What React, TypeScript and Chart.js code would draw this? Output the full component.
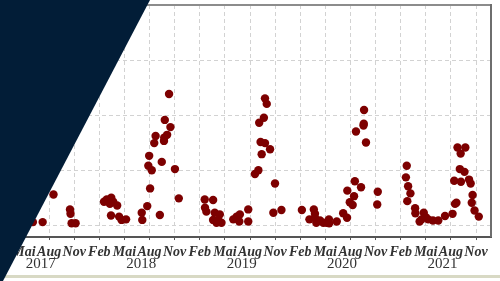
import React, { useEffect, useRef } from "react";
import { Chart, registerables } from "chart.js";

Chart.register(...registerables);

// ---- data ----
const sampleDates = [
  "2017-06-03", "2017-07-08", "2017-08-17", "2017-10-16", "2017-10-18", "2017-10-22", "2017-11-06",
  "2018-02-18", "2018-02-28", "2018-03-14", "2018-03-21", "2018-03-09", "2018-04-05", "2018-03-13",
  "2018-04-12", "2018-04-21", "2018-05-07",
  "2018-07-03", "2018-07-05", "2018-07-23", "2018-07-30", "2018-07-27", "2018-08-09", "2018-08-03",
  "2018-08-18", "2018-08-23", "2018-09-08", "2018-09-15", "2018-09-24", "2018-09-23", "2018-09-26",
  "2018-10-04", "2018-10-11", "2018-10-16", "2018-11-02", "2018-11-16",
  "2019-02-19", "2019-03-19", "2019-02-20", "2019-02-25", "2019-03-25", "2019-04-13", "2019-03-19",
  "2019-04-01", "2019-04-19", "2019-04-07", "2019-06-01", "2019-06-13", "2019-06-25", "2019-06-23",
  "2019-07-25", "2019-07-25",
  "2019-08-19", "2019-09-01", "2019-09-04", "2019-09-21", "2019-09-25", "2019-10-01", "2019-09-09",
  "2019-09-25", "2019-10-13", "2019-09-13", "2019-10-31", "2019-10-25", "2019-11-24",
  "2020-02-07", "2020-03-20", "2020-03-24", "2020-03-04", "2020-03-24", "2020-03-29", "2020-04-12",
  "2020-04-24", "2020-05-06", "2020-05-14", "2020-05-15", "2020-06-12",
  "2020-07-05", "2020-07-19", "2020-07-20", "2020-07-29", "2020-08-09", "2020-08-14", "2020-08-17",
  "2020-09-09", "2020-08-21", "2020-09-18", "2020-09-19", "2020-09-20", "2020-09-27", "2020-11-09",
  "2020-11-07",
  "2021-02-23", "2021-02-20", "2021-02-28", "2021-03-06", "2021-02-25", "2021-03-23", "2021-03-24",
  "2021-04-09", "2021-04-24", "2021-05-01", "2021-04-16", "2021-05-10", "2021-05-27", "2021-06-16",
  "2021-07-10", "2021-08-07", "2021-08-16", "2021-08-21", "2021-08-13", "2021-09-07", "2021-09-03",
  "2021-09-20", "2021-08-25", "2021-09-23", "2021-09-06", "2021-10-06", "2021-10-12", "2021-10-19",
  "2021-10-16", "2021-10-26", "2021-11-11",
];

const sampleValues = [
  0.7, 0.7, 5.7, 3.0, 2.2, 0.5, 0.5,
  4.4, 4.8, 5.1, 4.4, 4.0, 3.7, 1.9,
  1.7, 1.1, 1.2,
  2.4, 1.1, 3.6, 12.7, 10.9, 10.1, 6.8,
  15.0, 16.3, 2.0, 11.6, 16.0, 15.4, 19.2,
  16.5, 23.9, 17.9, 10.3, 5.0,
  4.8, 4.7, 3.3, 2.6, 2.4, 2.1, 1.1,
  0.6, 0.6, 1.1, 1.2, 1.7, 2.1, 0.8,
  3.0, 0.8,
  9.4, 10.1, 18.7, 19.6, 23.1, 22.1, 15.2,
  15.0, 13.9, 13.0, 7.7, 2.4, 2.9,
  2.9, 3.0, 2.2, 1.2, 1.5, 0.6, 1.0,
  0.6, 0.6, 1.2, 0.5, 0.8,
  2.3, 1.5, 6.4, 4.3, 3.8, 5.4, 8.1,
  7.0, 17.1, 18.2, 18.5, 21.0, 15.1, 6.2,
  3.9,
  10.9, 8.8, 7.2, 5.9, 4.5, 3.2, 2.3,
  0.8, 2.4, 1.6, 1.2, 1.2, 1.0, 1.0,
  1.8, 2.2, 4.0, 4.2, 8.2, 8.0, 10.3,
  9.8, 14.2, 14.2, 13.1, 8.4, 7.7, 5.6,
  4.2, 2.8, 1.7,
];

const monthTicks = [
  "2017-05", "2017-08", "2017-11", "2018-02", "2018-05", "2018-08", "2018-11",
  "2019-02", "2019-05", "2019-08", "2019-11", "2020-02", "2020-05", "2020-08",
  "2020-11", "2021-02", "2021-05", "2021-08", "2021-11",
];
const monthLabels = [
  "Mai", "Aug", "Nov", "Feb", "Mai", "Aug", "Nov",
  "Feb", "Mai", "Aug", "Nov", "Feb", "Mai", "Aug",
  "Nov", "Feb", "Mai", "Aug", "Nov",
];
const yearTicks = ["2017-07", "2018-07", "2019-07", "2020-07", "2021-07"];
const yearLabels = ["2017", "2018", "2019", "2020", "2021"];
const yTicks = [0, 10, 20, 30, 40];
const xStart = "2017-03-11";
const xEnd = "2021-12-25";

// months since Jan 2017
function toMonths(s: string): number {
  const p = s.split("-").map(Number);
  const day = p.length > 2 ? p[2] : 1;
  return (p[0] - 2017) * 12 + (p[1] - 1) + (day - 1) / 30.4;
}

const SERIF = "'Liberation Serif', 'DejaVu Serif', serif";

const framePlugin = {
  id: "frame",
  afterDraw(chart: any) {
    const { ctx, chartArea } = chart;
    ctx.save();
    ctx.strokeStyle = "#8c8c8c";
    ctx.lineWidth = 2;
    ctx.beginPath();
    ctx.moveTo(chartArea.left, chartArea.top);
    ctx.lineTo(chartArea.right, chartArea.top);
    ctx.stroke();
    ctx.strokeStyle = "#6e6e6e";
    ctx.beginPath();
    ctx.moveTo(chartArea.right, chartArea.top - 1);
    ctx.lineTo(chartArea.right, chartArea.bottom);
    ctx.stroke();
    ctx.restore();
  },
};

export default function App() {
  const ref = useRef<HTMLCanvasElement | null>(null);

  useEffect(() => {
    if (!ref.current) return;
    const points = sampleDates.map((d, i) => ({ x: toMonths(d), y: sampleValues[i] }));
    const labelOf = new Map<number, string | string[]>();
    const yearSet = new Set<number>();
    monthTicks.forEach((t, i) => labelOf.set(toMonths(t), monthLabels[i]));
    yearTicks.forEach((t, i) => {
      const v = toMonths(t);
      yearSet.add(v);
      labelOf.set(v, ["", yearLabels[i]]);
    });
    const allTicks = Array.from(labelOf.keys()).sort((a, b) => a - b);
    const isYearCtx = (c: any) => !!(c && c.tick && yearSet.has(c.tick.value));

    const chart = new Chart(ref.current, {
      type: "scatter",
      data: {
        datasets: [
          {
            data: points,
            backgroundColor: "#7d0000",
            borderColor: "#7d0000",
            borderWidth: 0,
            pointRadius: 4.2,
            pointHoverRadius: 4.2,
          },
        ],
      },
      options: {
        animation: false,
        responsive: false,
        events: [],
        layout: { padding: { left: 10, right: 9, top: 5, bottom: 3.7 } },
        plugins: { legend: { display: false }, tooltip: { enabled: false } },
        scales: {
          x: {
            type: "linear",
            position: "bottom",
            min: toMonths(xStart),
            max: toMonths(xEnd),
            afterBuildTicks: (scale: any) => {
              scale.ticks = allTicks.map((v) => ({ value: v }));
            },
            grid: {
              color: (c: any) => (isYearCtx(c) ? "rgba(0,0,0,0)" : "#d2d2d2"),
              lineWidth: 1,
              drawTicks: true,
              tickLength: 3,
              tickColor: (c: any) => (isYearCtx(c) ? "rgba(0,0,0,0)" : "#555555"),
              tickBorderDash: [],
            },
            border: { display: true, color: "#555555", width: 2, dash: [4, 3] },
            ticks: {
              autoSkip: false,
              maxRotation: 0,
              minRotation: 0,
              padding: 6.9,
              color: "#333333",
              font: (c: any) =>
                isYearCtx(c)
                  ? { family: SERIF, size: 15, style: "normal", weight: "normal", lineHeight: 0.782 }
                  : { family: SERIF, size: 14, style: "italic", weight: "bold", lineHeight: 0.8 },
              callback: (value: any) => {
                const v = Number(value);
                for (const [k, lab] of labelOf) {
                  if (Math.abs(k - v) < 1e-6) return lab;
                }
                return "";
              },
            },
          },
          y: {
            type: "linear",
            min: -2,
            max: 40,
            afterBuildTicks: (scale: any) => {
              scale.ticks = yTicks.map((v) => ({ value: v }));
            },
            grid: { color: "#d2d2d2", lineWidth: 1, drawTicks: false },
            border: { display: true, color: "#555555", width: 1, dash: [4, 3] },
            ticks: { display: false },
          },
        },
      },
      plugins: [framePlugin],
    } as any);
    return () => chart.destroy();
  }, []);

  return (
    <div style={{ position: "fixed", left: 0, top: 0, width: 500, height: 281, background: "#ffffff", overflow: "hidden" }}>
      <canvas ref={ref} width={500} height={281} style={{ position: "absolute", left: 0, top: 0, width: 500, height: 281 }} />
      <div style={{ position: "absolute", left: 0, top: 275, width: 500, height: 3, background: "#d8d9c4" }} />
      <div
        style={{
          position: "absolute",
          left: 0,
          top: 0,
          width: 152,
          height: 281,
          background: "#021d37",
          clipPath: "polygon(0 0, 150px 0, 3px 281px, 0 281px)",
        }}
      />
    </div>
  );
}
